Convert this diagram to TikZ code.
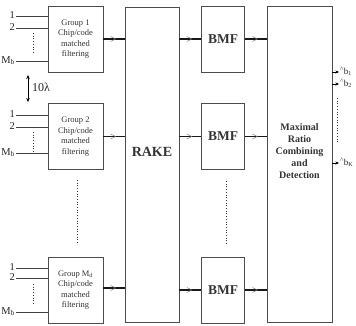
\documentclass[tikz,border=0pt]{standalone}
\usepackage{fontspec}
\setmainfont{Liberation Serif}
\usetikzlibrary{arrows.meta,decorations.markings}
\newcommand{\bhatlab}[1]{\raisebox{3pt}{\fontsize{7}{7}\selectfont\textasciicircum}\kern0.3pt b\textsubscript{#1}}
\tikzset{
  blk/.style={draw=black!70, line width=0.6pt, inner sep=0pt},
  grp/.style={blk, minimum width=55pt, minimum height=66pt, align=center,
    font=\fontsize{8.5}{10.5}\selectfont, text=black!80},
  bmf/.style={blk, minimum width=43pt, minimum height=66pt,
    font=\fontsize{13.5}{15}\selectfont\bfseries, text=black!80},
  conn/.style={line width=1.1pt, draw=black!90, postaction={decorate},
    decoration={markings, mark=at position 0.6 with
      {\arrow[black!55, line width=0.5pt]{Straight Barb[length=5pt,width=5pt]}}}},
  inln/.style={line width=0.7pt, draw=black!75},
  inlab/.style={anchor=mid east, inner sep=1pt, font=\fontsize{10.5}{12}\selectfont, text=black!85},
  dots/.style={dotted, line width=0.7pt, draw=black!80},
  outarr/.style={line width=0.7pt, -{Stealth[length=3.5pt,width=3pt]}},
  outlab/.style={anchor=mid west, inner sep=0pt, xshift=1pt, font=\fontsize{9}{9}\selectfont, text=black!85}
}
\begin{document}
\begin{tikzpicture}[x=1pt,y=-1pt]
\useasboundingbox (0,0) rectangle (356,325);
% group boxes
\node[grp] (g1) at (75.5,39) {Group 1\\Chip/code\\matched\\filtering};
\node[grp] (g2) at (75.5,136.5) {Group 2\\Chip/code\\matched\\filtering};
\node[grp] (g3) at (75.5,290) {Group M\textsubscript{d}\\Chip/code\\matched\\filtering};
% RAKE
\node[blk, minimum width=54pt, minimum height=315pt] (rake) at (152,164.5) {};
\node[font=\fontsize{14}{16}\selectfont\bfseries, text=black!80] (raket) at (152,152) {RAKE};
% BMF boxes
\node[bmf] (b1) at (223,39) {BMF};
\node[bmf] (b2) at (223,136.5) {BMF};
\node[bmf] (b3) at (223,290) {BMF};
% MRC
\node[blk, minimum width=65pt, minimum height=316pt] (mrc) at (299.5,164) {};
\node[align=center, font=\fontsize{10}{12}\selectfont\bfseries, text=black!80] (mrct) at (299.5,151)
  {Maximal\\Ratio\\Combining\\and\\Detection};
% input lines
\foreach \g/\ya/\yb/\yc in {g1/16/28/61, g2/115/127/153, g3/268/278/312}{
  \coordinate (\g-i1) at (16,\ya);
  \coordinate (\g-i2) at (16,\yb);
  \coordinate (\g-i3) at (16,\yc);
  \draw[inln] (\g-i1) -- (\g.west |- \g-i1);
  \draw[inln] (\g-i2) -- (\g.west |- \g-i2);
  \draw[inln] (\g-i3) -- (\g.west |- \g-i3);
  \node[inlab] (\g-l1) at (\g-i1) {1};
  \node[inlab] (\g-l2) at (\g-i2) {2};
  \node[inlab] (\g-l3) at (\g-i3) {M\textsubscript{b}};
}
% dotted input gaps
\coordinate (d1a) at (33,33); \coordinate (d1b) at (33,54);
\draw[dots] (d1a) -- (d1b);
\coordinate (d2a) at (33,132); \coordinate (d2b) at (33,152);
\draw[dots] (d2a) -- (d2b);
\coordinate (d3a) at (33,284); \coordinate (d3b) at (33,305);
\draw[dots] (d3a) -- (d3b);
% dotted between groups / BMFs
\coordinate (dga) at (77,180); \coordinate (dgb) at (77,244);
\draw[dots] (dga) -- (dgb);
\coordinate (dba) at (226,181); \coordinate (dbb) at (226,244);
\draw[dots] (dba) -- (dbb);
% 10 lambda
\coordinate (la) at (28,75); \coordinate (lb) at (28,102);
\draw[line width=0.8pt, {Stealth[length=4pt,width=3.5pt]}-{Stealth[length=4pt,width=3.5pt]}] (la) -- (lb);
\node[anchor=west, inner sep=0pt, font=\fontsize{12}{14}\selectfont, text=black!85] (lam) at (32,87) {10λ};
% connectors
\draw[conn] (g1.east) -- (rake.west |- g1.east);
\draw[conn] (g2.east) -- (rake.west |- g2.east);
\draw[conn] (g3.east |- 0,288) -- (rake.west |- 0,288);
\draw[conn] (rake.east |- b1.west) -- (b1.west);
\draw[conn] (rake.east |- b2.west) -- (b2.west);
\draw[conn] (rake.east |- b3.west) -- (b3.west);
\draw[conn] (b1.east) -- (mrc.west |- b1.east);
\draw[conn] (b2.east) -- (mrc.west |- b2.east);
\draw[conn] (b3.east) -- (mrc.west |- b3.east);
% outputs
\coordinate (o1) at (339,72); \coordinate (o2) at (339,84); \coordinate (o3) at (339,163);
\draw[outarr] (mrc.east |- o1) -- (o1);
\draw[outarr] (mrc.east |- o2) -- (o2);
\draw[outarr] (mrc.east |- o3) -- (o3);
\node[outlab] (ol1) at (o1) {\bhatlab{1}};
\node[outlab] (ol2) at (o2) {\bhatlab{2}};
\node[outlab] (ol3) at (o3) {\bhatlab{K}};
\coordinate (doa) at (337,98); \coordinate (dob) at (337,142);
\draw[dots] (doa) -- (dob);
\end{tikzpicture}
\end{document}
